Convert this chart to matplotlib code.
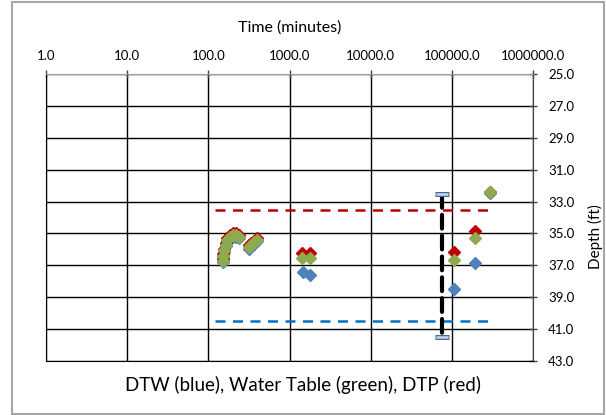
import matplotlib
matplotlib.use("Agg")
import matplotlib.pyplot as plt
from matplotlib.patches import Rectangle

plt.rcParams['font.family'] = ['Lato', 'DejaVu Sans']

# time (minutes) and depth (ft) for each series
dtw_time = [150, 153, 157, 163, 172, 185, 200, 218, 238, 316, 340, 365, 395,
            1480, 1780, 106000, 195000, 294000]
dtw_depth = [36.8, 36.5, 36.15, 35.8, 35.5, 35.3, 35.2, 35.2, 35.3, 35.95, 35.8, 35.65, 35.5,
             37.44, 37.6, 38.49, 36.84, 32.45]

wt_time = [150, 153, 157, 163, 172, 185, 200, 218, 238, 316, 340, 365, 395,
           1410, 1780, 106000, 195000, 294000]
wt_depth = [36.7, 36.4, 36.05, 35.7, 35.4, 35.2, 35.1, 35.1, 35.2, 35.85, 35.7, 35.55, 35.4,
            36.56, 36.56, 36.67, 35.31, 32.42]

dtp_time = [150, 153, 157, 163, 172, 185, 200, 218, 238, 316, 340, 365, 395,
            1410, 1780, 106000, 195000, 294000]
dtp_depth = [36.6, 36.3, 35.95, 35.6, 35.3, 35.1, 35.0, 35.0, 35.1, 35.75, 35.6, 35.45, 35.3,
             36.2, 36.2, 36.15, 34.85, 32.4]

# reference lines
ref_time = [120, 277000]
dtp_ref = [33.5, 33.5]
dtw_ref = [40.5, 40.5]
range_time = [75000, 75000]
range_depth = [32.5, 41.5]

x_ticks = [1, 10, 100, 1000, 10000, 100000, 1000000]
y_ticks = list(range(25, 44, 2))

fig = plt.figure(figsize=(6.06, 4.15), dpi=100)
ax = fig.add_axes([46/606, 1-361/415, 487/606, 287/415])

ax.plot(ref_time, dtp_ref, color='#C00000', lw=1.8, dashes=(4, 3), zorder=3)
ax.plot(ref_time, dtw_ref, color='#0070C0', lw=1.8, dashes=(4, 3), zorder=3)
ax.plot(range_time, range_depth, color='black', lw=3, dashes=(3.3, 1.7),
        dash_capstyle='round', zorder=3)
ax.plot(range_time, range_depth, ls='none', marker='_', ms=10.5, mew=3.6, color='#4a6a96', zorder=4)
ax.plot(range_time, range_depth, ls='none', marker='_', ms=9, mew=1.8, color='#c5d9ef', zorder=5)

ax.plot(dtw_time, dtw_depth, ls='none', marker='D', ms=6, color='#4F81BD', mec='#4F81BD', zorder=6)
ax.plot(dtp_time, dtp_depth, ls='none', marker='D', ms=6, color='#C00000', mec='#C00000', zorder=7)
ax.plot(wt_time, wt_depth, ls='none', marker='D', ms=6, color='#8DAB4E', mec='#8DAB4E', zorder=8)

ax.set_xscale('log')
ax.set_xlim(1, 1000000)
ax.set_ylim(43, 25)
ax.set_xticks(x_ticks)
ax.set_xticklabels(['%.1f' % v for v in x_ticks])
ax.minorticks_off()
ax.set_yticks(y_ticks)
ax.set_yticklabels(['%.1f' % v for v in y_ticks])
ax.xaxis.tick_top()
ax.yaxis.tick_right()
ax.tick_params(axis='both', labelsize=9.5, direction='inout', length=6, width=1, color='#404040')
ax.tick_params(axis='x', pad=6)
ax.tick_params(axis='y', pad=8)
ax.grid(True, color='black', lw=1)
for s in ['left', 'bottom']:
    ax.spines[s].set_color('black')
ax.spines['top'].set_color('#a0a0a0')
ax.spines['right'].set_color('#404040')

fig.text(289.5/606, 1-28/415, 'Time (minutes)', ha='center', va='center', fontsize=11.5)
fig.text(303/606, 1-385/415, 'DTW (blue), Water Table (green), DTP (red)',
         ha='center', va='center', fontsize=13.5)
fig.text(595/606, 1-237/415, 'Depth (ft)', ha='center', va='center', rotation=90, fontsize=11)

fig.patches.append(Rectangle((12/606, 1/415), 592/606, 412/415, transform=fig.transFigure,
                             fill=False, edgecolor='#a6a6a6', lw=1.5))

fig.savefig('out.png', dpi=100)
